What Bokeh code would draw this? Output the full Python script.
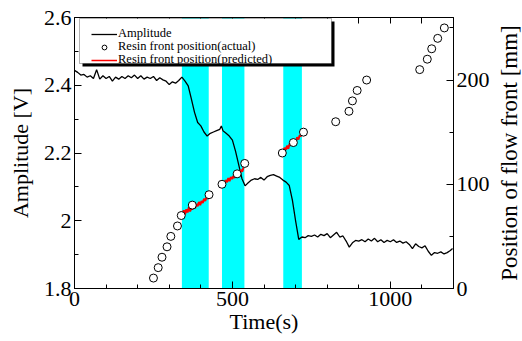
from bokeh.plotting import figure
from bokeh.layouts import row
from bokeh.models import (Range1d, LinearAxis, FixedTicker, NumeralTickFormatter,
                          BoxAnnotation, Legend, LegendItem)
from bokeh.embed import file_html
from bokeh.resources import INLINE

# ---------------- data ----------------
amp_t = [0, 10, 20, 30, 40, 50, 60, 70, 80, 90, 100, 110, 120, 130, 140, 150, 160, 170, 180, 190,
         200, 210, 220, 230, 240, 250, 260, 270, 280, 290, 300, 310, 320, 330, 340, 350, 360, 370,
         380, 390, 400, 410, 420, 430, 440, 450, 460, 465, 470, 480, 490, 500, 510, 520, 530, 540,
         550, 560, 570, 580, 590, 600, 610, 620, 630, 640, 650, 660, 670, 680, 690, 700, 710, 720,
         730, 740, 750, 760, 770, 780, 790, 800, 810, 820, 830, 840, 850, 860, 870, 880, 890, 900,
         910, 920, 930, 940, 950, 960, 970, 980, 990, 1000, 1010, 1020, 1030, 1040, 1050, 1060,
         1070, 1080, 1090, 1100, 1110, 1120, 1130, 1140, 1150, 1160, 1170, 1180, 1190, 1197]
amp_v = [2.444, 2.438, 2.430, 2.432, 2.424, 2.428, 2.420, 2.446, 2.418, 2.428, 2.420, 2.426, 2.412,
         2.424, 2.418, 2.426, 2.420, 2.428, 2.422, 2.430, 2.420, 2.428, 2.418, 2.424, 2.420, 2.426,
         2.414, 2.422, 2.416, 2.412, 2.402, 2.410, 2.406, 2.414, 2.424, 2.412, 2.398, 2.360, 2.320,
         2.290, 2.280, 2.262, 2.250, 2.258, 2.262, 2.266, 2.270, 2.280, 2.266, 2.258, 2.250, 2.238,
         2.205, 2.165, 2.125, 2.103, 2.112, 2.120, 2.124, 2.122, 2.128, 2.120, 2.130, 2.134, 2.136,
         2.132, 2.128, 2.120, 2.114, 2.104, 2.060, 2.000, 1.945, 1.952, 1.950, 1.956, 1.954, 1.958,
         1.952, 1.960, 1.956, 1.962, 1.950, 1.958, 1.966, 1.952, 1.955, 1.940, 1.922, 1.935, 1.942,
         1.940, 1.944, 1.938, 1.946, 1.940, 1.948, 1.938, 1.944, 1.936, 1.942, 1.938, 1.944, 1.936,
         1.940, 1.934, 1.938, 1.930, 1.918, 1.932, 1.924, 1.920, 1.926, 1.910, 1.898, 1.906, 1.904,
         1.908, 1.902, 1.906, 1.912, 1.918]

actual_t = [250, 265, 277, 293, 305, 326, 338, 373, 426, 467, 515, 539, 658, 693, 725,
            827, 869, 880, 895, 925, 1093, 1117, 1131, 1150, 1171]
actual_pos = [10, 20, 30, 40, 50, 60, 70, 80, 90, 100, 110, 120, 130, 140, 150,
              160, 170, 180, 190, 200, 210, 220, 230, 240, 250]

pred1_t = [342, 346, 350, 354, 358, 362, 366, 370, 374, 378, 382, 386, 390, 394, 398, 402, 406,
           410, 414, 418, 422, 425]
pred1_pos = [72, 75, 71, 76, 73, 78, 74, 77, 76, 80, 77, 81, 79, 83, 80, 84, 82, 86, 84, 88, 86, 89]
pred2_t = [467, 471, 475, 479, 483, 487, 491, 495, 499, 503, 507, 511, 515, 519, 523, 527, 531,
           535, 538]
pred2_pos = [100, 103, 100, 104, 102, 106, 103, 107, 105, 108, 106, 110, 108, 112, 110, 114, 112,
             116, 118]
pred3_t = [661, 665, 669, 673, 677, 681, 685, 689, 693, 697, 701, 705, 709, 713, 717, 720]
pred3_pos = [132, 135, 133, 137, 134, 139, 137, 140, 139, 143, 141, 145, 143, 147, 146, 150]

band_start = [340, 467, 661]
band_end = [425, 538, 720]

x_ticks = [0, 500, 1000]
x_minor = [100, 200, 300, 400, 600, 700, 800, 900, 1100]
y_ticks = [1.8, 2.0, 2.2, 2.4, 2.6]
y_minor = [1.9, 2.1, 2.3, 2.5]
pos_ticks = [0, 100, 200]
pos_minor = [50, 150, 250]

legend_labels = ["Amplitude", "Resin front position(actual)", "Resin front position(predicted)"]

FONT = "serif"
LEG_FONT = "Liberation Serif"
RIGHT_LABEL = "Position of flow front [mm]"

p = figure(width=492, height=341, output_backend="svg", toolbar_location=None,
           x_range=Range1d(0, 1200), y_range=Range1d(1.8, 2.6),
           min_border_left=74, min_border_right=35, min_border_top=17, min_border_bottom=53,
           x_axis_label="Time(s)", y_axis_label="Amplitude [V]")
p.extra_y_ranges = {"pos": Range1d(0, 260)}
p.grid.visible = False
p.outline_line_color = "black"
p.outline_line_width = 1
p.background_fill_color = "white"
p.border_fill_color = "white"

for s, e in zip(band_start, band_end):
    p.add_layout(BoxAnnotation(left=s, right=e, fill_color="#00FFFF", fill_alpha=1,
                               line_alpha=0, level="underlay"))

r_amp = p.line(amp_t, amp_v, line_color="black", line_width=1.3)
p.line(pred1_t, pred1_pos, line_color="red", line_width=2, y_range_name="pos")
p.line(pred2_t, pred2_pos, line_color="red", line_width=2, y_range_name="pos")
p.line(pred3_t, pred3_pos, line_color="red", line_width=2, y_range_name="pos")
r_act = p.scatter(actual_t, actual_pos, marker="circle", size=8, fill_color="white",
                  line_color="black", line_width=1, y_range_name="pos")
r_leg_red = p.line([float("nan")], [float("nan")], line_color="#FF0000", line_width=1.5)

def style_axis(ax):
    ax.axis_line_color = "black"
    ax.major_tick_in = 7
    ax.major_tick_out = 0
    ax.minor_tick_in = 4
    ax.minor_tick_out = 0
    ax.major_tick_line_color = "black"
    ax.minor_tick_line_color = "black"
    ax.major_label_text_font = FONT
    ax.major_label_text_font_size = "22px"
    ax.major_label_text_color = "black"
    ax.major_label_standoff = 3
    ax.axis_label_text_font = FONT
    ax.axis_label_text_font_size = "22px"
    ax.axis_label_text_font_style = "normal"
    ax.axis_label_text_color = "black"

xax = p.xaxis[0]
xax.ticker = FixedTicker(ticks=x_ticks, minor_ticks=x_minor)
style_axis(xax)
xax.axis_label_standoff = 0

yax = p.yaxis[0]
yax.ticker = FixedTicker(ticks=y_ticks, minor_ticks=y_minor)
yax.formatter = NumeralTickFormatter(format="0.[0]")
style_axis(yax)
yax.axis_label_standoff = 8

top = LinearAxis(ticker=FixedTicker(ticks=[], minor_ticks=x_ticks[1:] + x_minor))
style_axis(top)
top.minor_tick_in = 6
top.major_label_standoff = 0
p.add_layout(top, "above")

right = LinearAxis(y_range_name="pos",
                   ticker=FixedTicker(ticks=pos_ticks, minor_ticks=pos_minor))
style_axis(right)
p.add_layout(right, "right")

# legend box with shadow
p.add_layout(BoxAnnotation(left=8, right=260, bottom=222, top=267,
                           left_units="screen", right_units="screen",
                           bottom_units="screen", top_units="screen",
                           fill_color="black", fill_alpha=1, line_alpha=0))
p.add_layout(BoxAnnotation(left=5, right=257, bottom=225, top=270,
                           left_units="screen", right_units="screen",
                           bottom_units="screen", top_units="screen",
                           fill_color="white", fill_alpha=1, line_color="black", line_width=1))

for lab, rend, ypos in zip(legend_labels, [r_amp, r_act, r_leg_red], [247, 234, 221]):
    p.add_layout(Legend(items=[LegendItem(label=lab, renderers=[rend])],
                        location=(17, ypos), padding=0, margin=0, spacing=0,
                        glyph_width=26, glyph_height=12, label_height=12, label_standoff=1,
                        label_text_font=LEG_FONT, label_text_font_size="12.5px",
                        label_text_color="black",
                        background_fill_alpha=0, border_line_alpha=0))

# right-hand axis title (reads bottom-to-top), drawn as a left axis label of a slim side panel
p2 = figure(width=30, height=341, output_backend="svg", toolbar_location=None,
            x_range=Range1d(0, 1), y_range=Range1d(0, 1),
            x_axis_location=None, y_axis_location="left",
            min_border_left=29, min_border_right=0, min_border_top=17, min_border_bottom=53,
            y_axis_label=RIGHT_LABEL)
p2.grid.visible = False
p2.outline_line_alpha = 0
p2.border_fill_color = "white"
p2.background_fill_color = "white"
ax2 = p2.yaxis[0]
ax2.ticker = FixedTicker(ticks=[], minor_ticks=[])
ax2.axis_line_alpha = 0
ax2.major_tick_in = 0
ax2.major_tick_out = 0
ax2.minor_tick_in = 0
ax2.minor_tick_out = 0
ax2.major_label_standoff = 0
ax2.axis_label_standoff = 0
ax2.axis_label_text_font = FONT
ax2.axis_label_text_font_size = "23px"
ax2.axis_label_text_font_style = "normal"
ax2.axis_label_text_color = "black"

layout = row(p, p2, spacing=0)
open("out.html", "w").write(file_html(layout, INLINE))
